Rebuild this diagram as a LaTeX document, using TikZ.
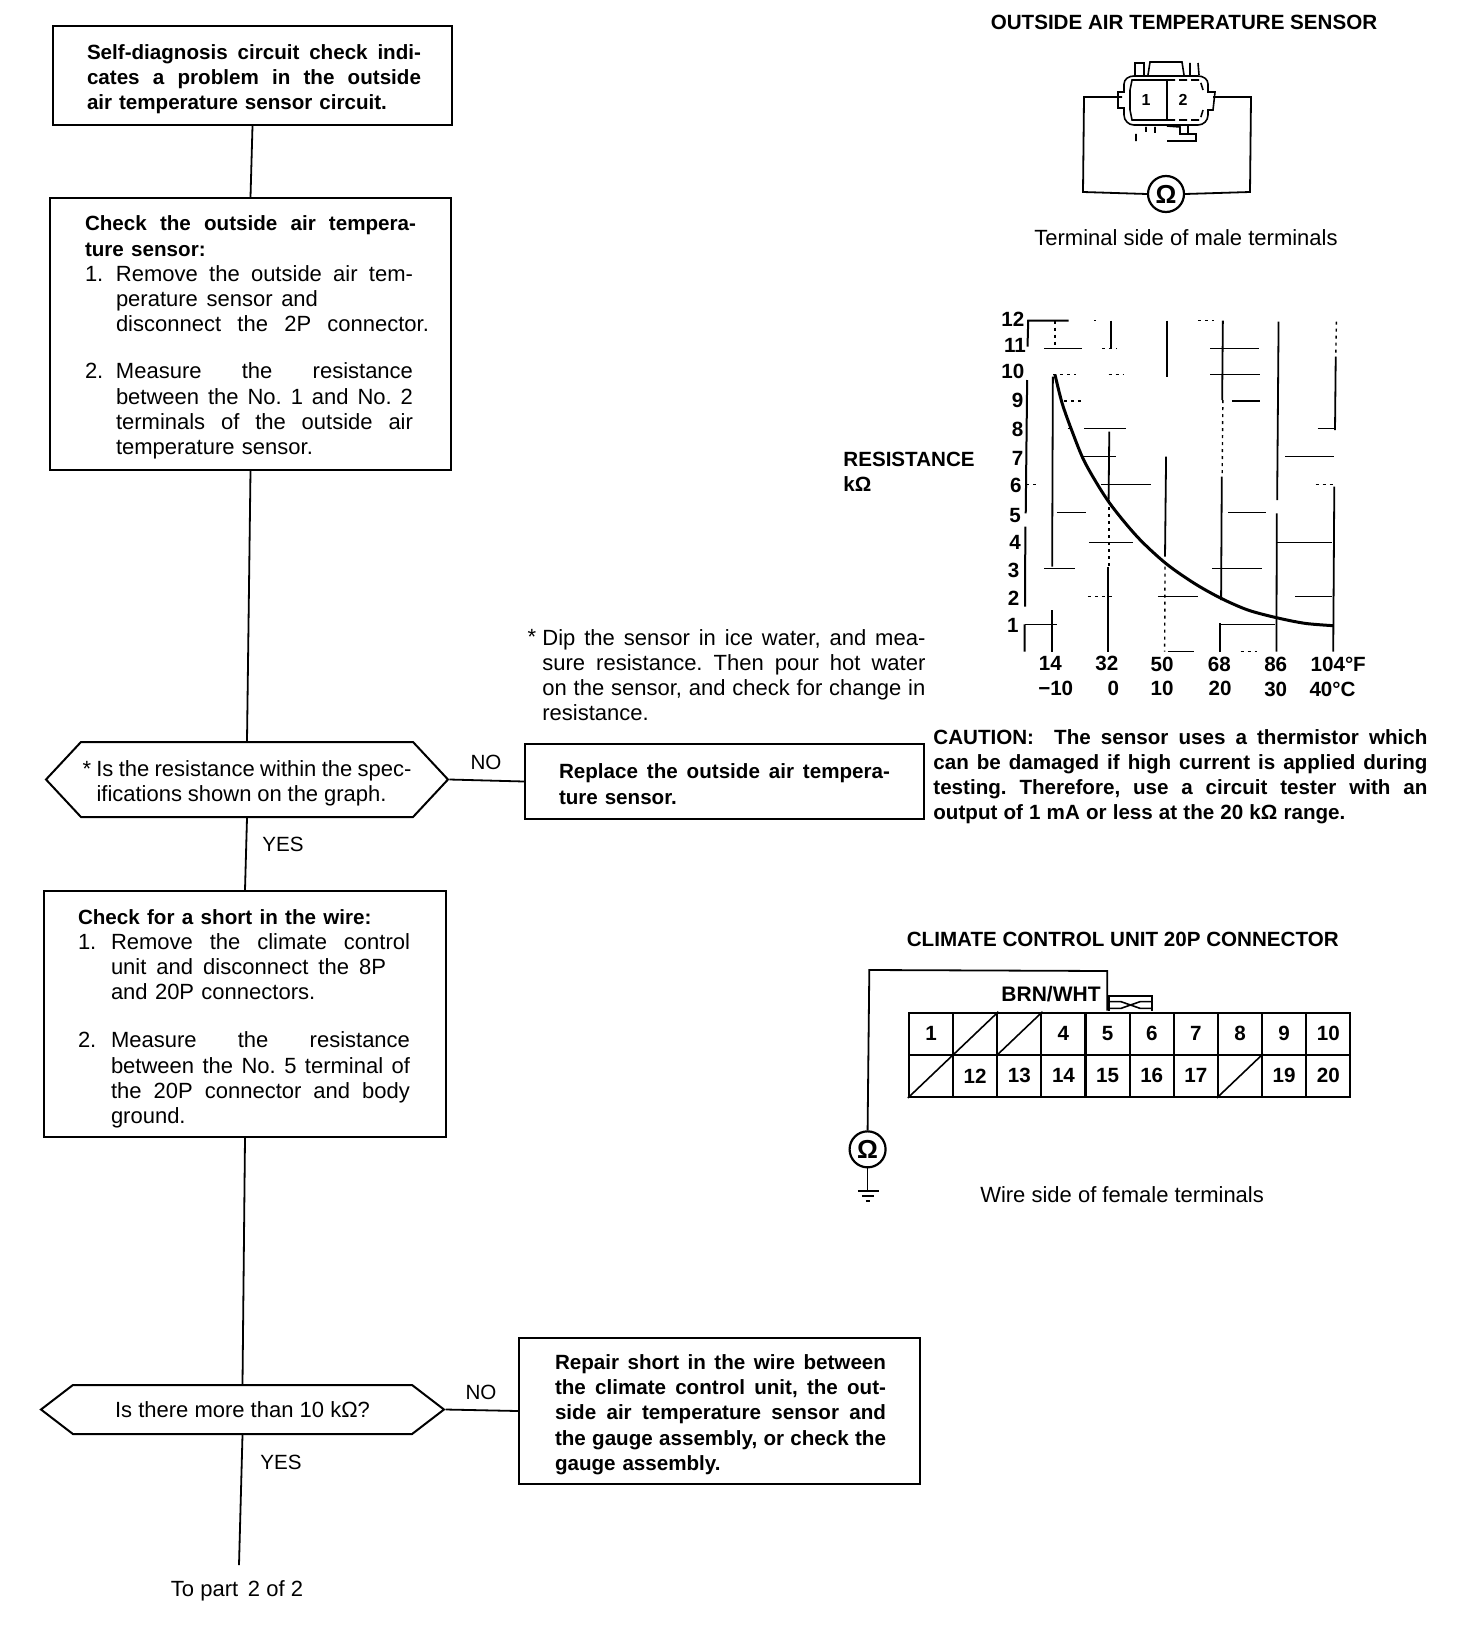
\documentclass[tikz,border=0pt]{standalone}
\usepackage{fontspec}
\setmainfont{Liberation Sans}
\usetikzlibrary{shapes.symbols}
\newcommand{\jl}[2]{\makebox[\dimexpr #1pt/2\relax][s]{\spaceskip=0pt\relax\xspaceskip=0pt\relax #2}}
\newcommand{\bodyfont}{\fontsize{11}{12.6}\selectfont\frenchspacing}
\newcommand{\boldfont}{\fontsize{10.3}{12.6}\selectfont\bfseries\frenchspacing}
\newcommand{\numcol}[1]{\makebox[15.5pt][l]{#1}}
\newcommand{\topgap}[1]{\rule{0pt}{#1pt}}
\tikzset{
 wire/.style={line width=0.9pt,black},
 flowbox/.style={draw,line width=1pt,inner ysep=0pt,align=left,font=\bodyfont,anchor=center},
 hexa/.style={draw,line width=1pt,shape=signal,signal to=east and west,inner sep=0pt,align=left,font=\bodyfont},
 lab/.style={inner sep=0pt,font=\bodyfont},
 branch/.style={inner sep=0pt,font=\fontsize{10.3}{12}\selectfont},
 txt/.style={inner sep=0pt,font=\bodyfont,align=left,anchor=north west},
 head/.style={inner sep=0pt,font=\fontsize{10.3}{12}\selectfont\bfseries},
 tick/.style={inner sep=0pt,font=\fontsize{10.3}{12}\selectfont\bfseries},
 meter/.style={draw,circle,line width=1.1pt,minimum size=18pt,inner sep=0pt,font=\fontsize{13}{13}\selectfont\bfseries},
 cell/.style={draw,line width=1.1pt,minimum width=22.07pt,minimum height=21pt,inner sep=0pt,font=\fontsize{10.3}{12}\selectfont\bfseries},
 grid/.style={line width=0.7pt,black},
 dots/.style={line width=0.7pt,black,dash pattern=on 1.5pt off 2pt},
}
\begin{document}
\begin{tikzpicture}[x=0.5pt,y=-0.5pt]
\useasboundingbox (0,0) rectangle (1472,1632);
% flow boxes
\node[flowbox,text width=165.5pt,inner xsep=17pt,minimum height=49.5pt,font=\boldfont] (b1) at (252.5,75.5) {\topgap{11}\jl{334}{Self-diagnosis circuit check indi-}\\\jl{334}{cates a problem in the outside}\\air temperature sensor circuit.};
\node[flowbox,text width=165.5pt,inner xsep=17.5pt,minimum height=136pt] (b2) at (250.5,334) {\topgap{11}\textbf{\fontsize{10.3}{12.6}\selectfont\jl{331}{Check the outside air tempera-}}\\\textbf{\fontsize{10.3}{12.6}\selectfont ture sensor:}\\\numcol{1.}\jl{297}{Remove the outside air tem-}\\\numcol{}\jl{202}{perature sensor and}\\\numcol{}\jl{313}{disconnect the 2P connector.}\\[11pt]\numcol{2.}\jl{297}{Measure the resistance}\\\numcol{}\jl{297}{between the No. 1 and No. 2}\\\numcol{}\jl{297}{terminals of the outside air}\\\numcol{}temperature sensor.};
\node[hexa,minimum width=201pt,minimum height=37.5pt,signal pointer angle=94] (d1) at (247,779.5) {\topgap{12}\jl{329}{* Is the resistance within the spec-}\\\hspace*{7pt}\jl{290}{ifications shown on the graph.}};
\node[flowbox,text width=165.5pt,inner xsep=17pt,minimum height=37.5pt,font=\boldfont] (rep) at (724.5,781.5) {\topgap{10}\jl{331}{Replace the outside air tempera-}\\ture sensor.};
\node[flowbox,text width=167pt,inner xsep=17pt,minimum height=123pt] (b3) at (245,1014) {\topgap{12}\textbf{\fontsize{10.3}{12.6}\selectfont Check for a short in the wire:}\\\makebox[16.5pt][l]{1.}\jl{299}{Remove the climate control}\\\makebox[16.5pt][l]{}\jl{275}{unit and disconnect the 8P}\\\makebox[16.5pt][l]{}and 20P connectors.\\[11.5pt]\makebox[16.5pt][l]{2.}\jl{299}{Measure the resistance}\\\makebox[16.5pt][l]{}\jl{299}{between the No. 5 terminal of}\\\makebox[16.5pt][l]{}\jl{299}{the 20P connector and body}\\\makebox[16.5pt][l]{}ground.};
\node[hexa,minimum width=201.5pt,minimum height=24.5pt,signal pointer angle=75] (d2) at (242.5,1409.5) {Is there more than 10 kΩ?};
\node[flowbox,text width=164.5pt,inner xsep=18pt,minimum height=73pt,font=\boldfont] (rep2) at (719.5,1411) {\topgap{11}\jl{331}{Repair short in the wire between}\\\jl{331}{the climate control unit, the out-}\\\jl{331}{side air temperature sensor and}\\\jl{331}{the gauge assembly, or check the}\\gauge assembly.};
\coordinate (endp) at (239,1565);
\draw[wire] (b1.south)--(b2.north);
\draw[wire] (b2.south)--(d1.north);
\draw[wire] (d1.south)--(b3.north);
\draw[wire] (b3.south)--(d2.north);
\draw[wire] (d2.south)--(endp);
\draw[wire] (d1.east)--(rep.west);
\draw[wire] (d2.east)--(rep2.west);
\node[branch] (no1) at (486,762) {NO};
\node[branch] (yes1) at (283,844) {YES};
\node[branch] (no2) at (481,1392) {NO};
\node[branch] (yes2) at (281,1462) {YES};
\node[lab] (topart) at (237,1591) {To part \,2 of 2};
% note and caution
\node[lab] (star) at (532,637) {*};
\node[txt] (note) at (542,629) {\jl{383}{Dip the sensor in ice water, and mea-}\\\jl{383}{sure resistance. Then pour hot water}\\\jl{383}{on the sensor, and check for change in}\\resistance.};
\node[txt,font=\boldfont] (caution) at (933,729) {\jl{494}{CAUTION:\ \ The sensor uses a thermistor which}\\\jl{494}{can be damaged if high current is applied during}\\\jl{494}{testing. Therefore, use a circuit tester with an}\\\jl{412}{output of 1 mA or less at the 20 kΩ range.}};
% sensor connector
\node[head] (t1) at (1184,22) {OUTSIDE AIR TEMPERATURE SENSOR};
\node[lab] (t2) at (1186,238) {Terminal side of male terminals};
\node[meter] (om1) at (1166,194) {Ω};
\coordinate (pa) at (1122,97); \coordinate (pb) at (1213,97);
\draw[wire] (pa)--(1084,97)--(1083,192)--(om1.west);
\draw[wire] (pb)--(1251,97)--(1250,192)--(om1.east);
\draw[line width=0.8pt] (1124,92)--(1124,84) to[out=90,in=180] (1134,76)--(1198,76) to[out=0,in=90] (1208,84)--(1208,92)--(1215,92)--(1213,110)--(1208,110)--(1208,115) to[out=-90,in=0] (1198,125)--(1134,125) to[out=180,in=-90] (1124,115)--(1124,108)--(1118,108)--(1118,92)--cycle;
\draw[line width=0.8pt] (1130,90)--(1132,80)--(1167,80)--(1167,120)--(1132,120)--(1130,110)--cycle;
\draw[line width=0.8pt,dash pattern=on 4pt off 2pt] (1167,80)--(1200,80)--(1203,90);
\draw[line width=0.8pt,dash pattern=on 4pt off 2pt] (1167,120)--(1200,120)--(1203,110);
\draw[line width=0.8pt] (1135,75)--(1135,63)--(1144,63)--(1144,75) (1148,75)--(1150,62)--(1182,62)--(1184,75) (1190,63)--(1190,75) (1198,63)--(1199,75);
\draw[line width=0.8pt] (1167,126)--(1180,127)--(1180,134)--(1196,134)--(1196,141)--(1167,141) (1188,126)--(1188,134) (1136,134)--(1136,141) (1146,127)--(1146,132) (1155,127)--(1155,133);
\node[tick] (p1) at (1146,100) {\fontsize{8}{10}\selectfont 1};
\node[tick] (p2) at (1183,100) {\fontsize{8}{10}\selectfont 2};
% graph
\begin{scope}[shift={(830,300)},x=0.17857pt,y=-0.16667pt]
\draw[wire,line width=1pt] (668,62)--(555,62)--(553,140) (552,240)--(548,640) (547,680)--(546,920) (545,973)--(545,1055);
\draw[grid] (545,973)--(635,973);
\foreach \yy/\aa/\bb in {146/600/705,224/1065/1205,385/712/828,470/705/802,553/760/898,638/635/717,638/1115/1220,728/1250/1405,805/600/685,805/1070/1210,890/918/1030,973/1090/1245,303/1125/1205,146/1065/1200,385/1365/1415,470/1275/1410,890/1302/1405,728/725/848,1055/945/1020}
 \draw[grid] (\aa,\yy)--(\bb,\yy);
\foreach \yy/\aa/\bb in {62/740/745,62/1030/1075,146/762/803,224/625/690,224/780/820,303/655/705,385/665/680,553/550/588,553/1360/1410,890/722/795,1055/1150/1195}
 \draw[dots] (\aa,\yy)--(\bb,\yy);
\foreach \aa/\bb/\cc/\dd in {624/230/622/800,621/930/621/1055,787/62/787/145,782/395/780/600,778/800/778/1055,943/62/943/230,941/470/938/770,1100/62/1098/300,1097/530/1095/900,1093/970/1093/1055,1256/65/1252/600,1251/640/1250/1055,1416/170/1414/390,1412/560/1409/1055}
 \draw[wire] (\aa,\bb)--(\cc,\dd);
\foreach \aa/\bb/\cc/\dd in {630/62/630/140,781/600/781/800,938/800/937/1055,1100/300/1098/530,1418/65/1416/170}
 \draw[dots] (\aa,\bb)--(\cc,\dd);
\draw[line width=1.5pt] plot[smooth] coordinates {(630,224) (650,310) (680,400) (715,490) (780,605) (860,710) (940,790) (1020,850) (1095,895) (1170,930) (1250,953) (1330,970) (1409,977)};
\foreach \v/\xx/\yy in {12/512/57,11/518/135,10/512/215,9/525/300,8/525/388,7/525/475,6/520/555,5/518/648,4/518/728,3/514/810,2/514/895,1/512/975}
 \node[tick] (y\v) at (\xx,\yy) {\v};
\foreach \n/\v/\xx/\yy in {f14/14/617/1090,f32/32/775/1090,f50/50/930/1092,f68/68/1090/1092,f86/86/1248/1092,f104/104°F/1423/1092,c10/−10/632/1165,c0/0/793/1165,cp10/10/930/1165,c20/20/1092/1165,c30/30/1248/1167,c40/40°C/1407/1167}
 \node[tick] (\n) at (\xx,\yy) {\v};
\end{scope}
\node[tick,anchor=west] (resa) at (843,459) {RESISTANCE};
\node[tick,anchor=west] (resb) at (843,484) {kΩ};
% climate control connector
\begin{scope}[shift={(840,920)},x=0.17241pt,y=-0.16667pt]
\node[head] (t3) at (820,57) {CLIMATE CONTROL UNIT 20P CONNECTOR};
\node[lab] (t4) at (818,825) {Wire side of female terminals};
\node[tick,font=\fontsize{10.5}{12}\selectfont\bfseries] (brn) at (612,222) {BRN/WHT};
\foreach \i/\t in {1/1,2/,3/,4/4,5/5,6/6,7/7,8/8,9/9,10/10}
 \node[cell] (a\i) at ({136+128*\i},341.5) {\t};
\foreach \i/\t in {1/,2/12,3/13,4/14,5/15,6/16,7/17,8/,9/19,10/20}
 \node[cell] (z\i) at ({136+128*\i},467.5) {\t};
\foreach \c in {a2,a3,z1,z8}
 \draw[line width=0.8pt] (\c.south west)--(\c.north east);
\node[meter] (om2) at (80,688) {Ω};
\coordinate (wt) at (775,272);
\coordinate (gnd) at (80,813);
\draw[wire] (wt)--(775,153)--(85,150)--(om2.north);
\draw[wire] (om2.south)--(gnd);
\draw[wire] (52,813)--(112,813) (65,828)--(98,828) (75,843)--(88,843);
\draw[wire] (780,272)--(780,228)--(905,228)--(905,272);
\draw[line width=0.8pt] (780,245)--(815,245)--(870,265)--(905,265) (780,265)--(815,265)--(870,245)--(905,245);
\end{scope}
\end{tikzpicture}
\end{document}
